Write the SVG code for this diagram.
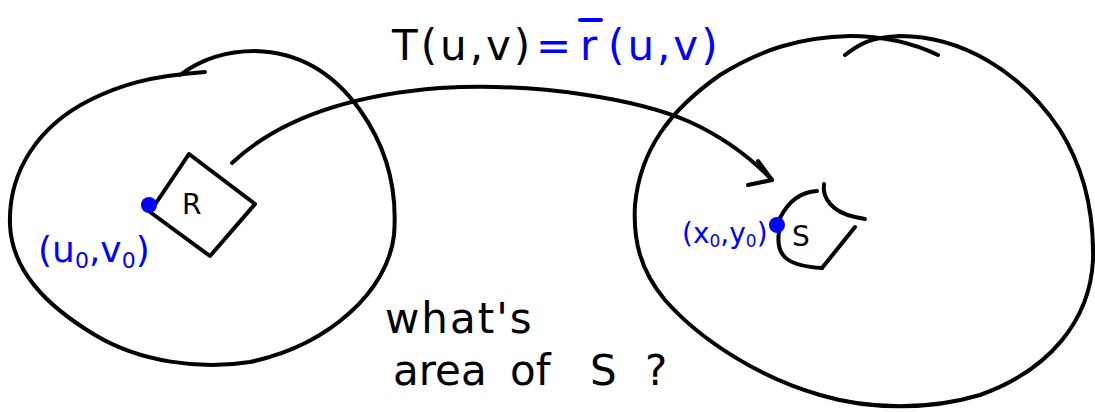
<svg xmlns="http://www.w3.org/2000/svg" width="1095" height="412" viewBox="0 0 1095 412">
<style>
.ink{fill:none;stroke:#000;stroke-width:4;stroke-linecap:round;stroke-linejoin:round}
.t{font-family:"DejaVu Sans","Liberation Sans",sans-serif;fill:#000}
.b{fill:#0000ff}
</style>
<rect width="1095" height="412" fill="#fff"/>
<g id="regionUV">
<path class="ink" d="M180,75 C200,60 225,51 255,51 C300,52 335,75 360,110 C385,145 398,185 394,235 C388,290 330,345 250,362 C200,370 140,362 95,335 C45,305 12,270 10,225 C8,170 40,125 90,100 C120,85 150,76 205,72"/>
</g>
<g id="regionXY">
<path class="ink" d="M845,55 C858,45 870,37 900,36 C960,36 1020,70 1060,130 C1085,170 1094,215 1093,260 C1090,320 1050,370 980,395 C930,410 870,410 820,395 C760,378 700,340 665,300 C640,270 633,240 635,205 C640,150 670,110 720,75 C760,50 800,37 850,36 C885,36 915,44 938,55"/>
</g>
<g id="R">
<path class="ink" d="M150,212 L189,154 L255,204 L210,256 Z"/>
<text class="t" x="182" y="214" font-size="28">R</text>
</g>
<g id="uv0">
<circle cx="149" cy="205" r="8" class="b"/>
<text class="t b" x="38" y="262" font-size="36">(u<tspan font-size="22" dy="6">0</tspan><tspan dy="-6">,v</tspan><tspan font-size="22" dy="6">0</tspan><tspan dy="-6">)</tspan></text>
</g>
<g id="S">
<path class="ink" d="M780,218 C788,202 800,192 817,191"/>
<path class="ink" d="M824,184 C822,198 832,212 855,217 L865,219"/>
<path class="ink" d="M855,227 L822,268"/>
<path class="ink" d="M779,232 C775,258 790,266 822,268"/>
<text class="t" x="792" y="246" font-size="28">S</text>
</g>
<g id="xy0">
<circle cx="777" cy="225" r="8" class="b"/>
<text class="t b" x="682" y="243" font-size="28">(x<tspan font-size="17" dy="4">0</tspan><tspan dy="-4">,y</tspan><tspan font-size="17" dy="4">0</tspan><tspan dy="-4">)</tspan></text>
</g>
<g id="connectors">
<path class="ink" d="M232,163 C280,118 350,95 440,88 C540,82 640,100 690,122 C725,138 750,157 772,180"/>
<path class="ink" d="M758,161 L772,180 L748,185"/>
</g>
<g id="title">
<text class="t" x="392" y="60" font-size="42" letter-spacing="3">T(u,v)</text>
<text class="t b" y="60" font-size="42" letter-spacing="3"><tspan x="536">=</tspan><tspan x="580">r</tspan><tspan x="608">(u,v)</tspan></text>
<path d="M580,20 L601,20" stroke="#0000ff" stroke-width="4" stroke-linecap="round"/>
</g>
<g id="question">
<text class="t" x="385" y="333" font-size="42" letter-spacing="2">what's</text>
<text class="t" y="385" font-size="42"><tspan x="393">area</tspan><tspan x="510">of</tspan><tspan x="590">S</tspan><tspan x="645">?</tspan></text>
</g>
</svg>
